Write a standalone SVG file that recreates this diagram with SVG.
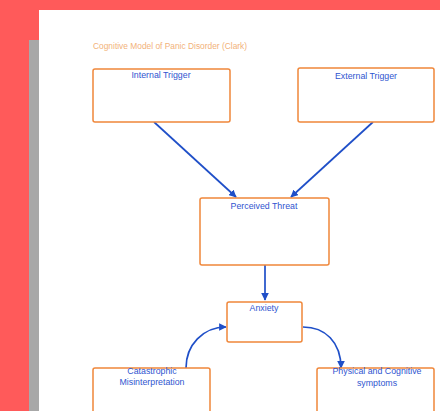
<svg xmlns="http://www.w3.org/2000/svg" width="440" height="411" viewBox="0 0 440 411">
<style>
.box{fill:#fff;stroke:#F0873A;stroke-width:1.5}
.lbl{font-family:"Liberation Sans",Arial,sans-serif;font-size:8.8px;fill:#2F55D0;text-anchor:middle}
.con{fill:none;stroke:#1F4FC8;stroke-width:1.7}
</style>
<defs>
<marker id="ah" viewBox="0 0 10 10" refX="9" refY="5" markerWidth="4.5" markerHeight="4.5" orient="auto"><path d="M0,0L10,5L0,10z" fill="#1F4FC8"/></marker>
</defs>
<rect width="440" height="411" fill="#FF5A5A"/>
<rect x="29" y="40" width="11" height="371" fill="#A8A8A8"/>
<rect x="39" y="10" width="401" height="401" fill="#fff"/>
<text x="93" y="49" font-family="Liberation Sans,Arial,sans-serif" font-size="8.4" fill="#F2B27A">Cognitive Model of Panic Disorder (Clark)</text>
<g id="connectors">
<path class="con" d="M154,122L236,197" marker-end="url(#ah)"/>
<path class="con" d="M373,122L291,197" marker-end="url(#ah)"/>
<path class="con" d="M265,265L265,300" marker-end="url(#ah)"/>
<path class="con" d="M186,368C186,345 203,327 226,327" marker-end="url(#ah)"/>
<path class="con" d="M303,327C325,327 341,342 341,368" marker-end="url(#ah)"/>
</g>
<g id="internal"><rect class="box" x="93" y="69" width="137" height="53" rx="2"/><text class="lbl" x="161" y="78">Internal Trigger</text></g>
<g id="external"><rect class="box" x="298" y="68" width="136" height="54" rx="2"/><text class="lbl" x="366" y="79">External Trigger</text></g>
<g id="threat"><rect class="box" x="200" y="198" width="129" height="67" rx="2"/><text class="lbl" x="264" y="209">Perceived Threat</text></g>
<g id="anxiety"><rect class="box" x="227" y="302" width="75" height="40" rx="2"/><text class="lbl" x="264" y="311">Anxiety</text></g>
<g id="catastrophic"><rect class="box" x="93" y="368" width="117" height="50" rx="2"/><text class="lbl" x="152" y="374">Catastrophic</text><text class="lbl" x="152" y="385">Misinterpretation</text></g>
<g id="physical"><rect class="box" x="317" y="368" width="117" height="50" rx="2"/><text class="lbl" x="377" y="374">Physical and Cognitive</text><text class="lbl" x="377" y="386">symptoms</text></g>
</svg>
